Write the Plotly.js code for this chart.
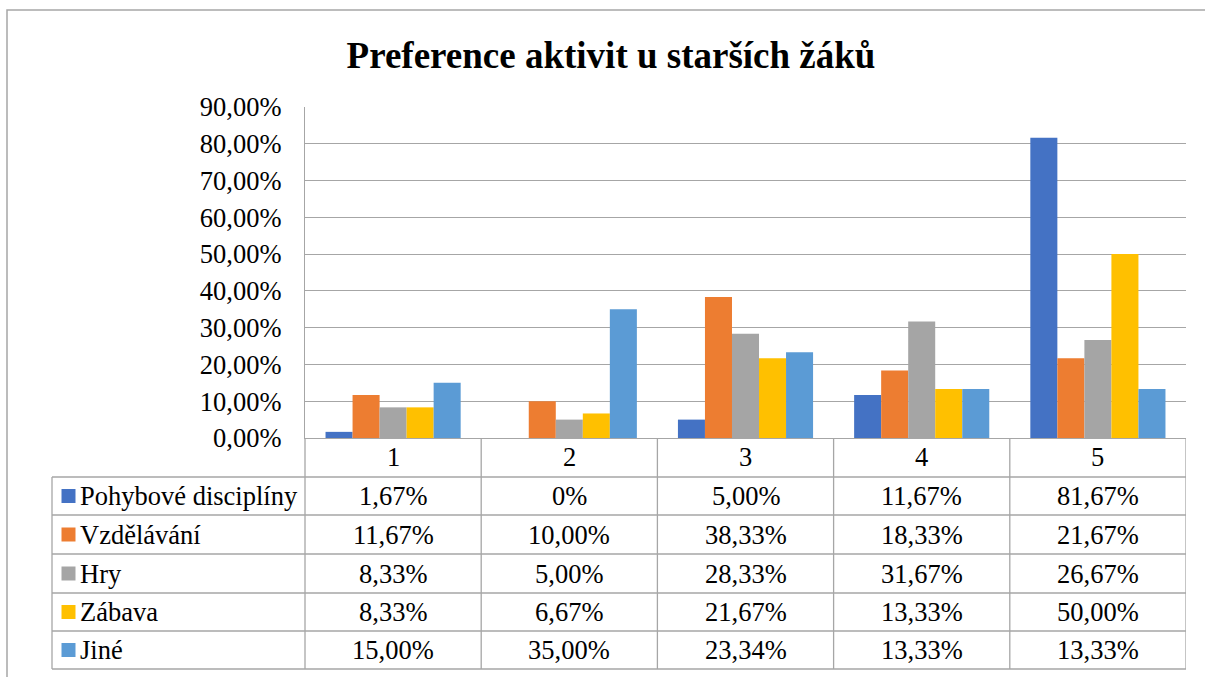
<!DOCTYPE html>
<html>
<head>
<meta charset="utf-8">
<script src="https://cdn.plot.ly/plotly-3.0.1.min.js"></script>
<style>
html,body{margin:0;padding:0;background:#fff;}
#chart{width:1205px;height:677px;}
</style>
</head>
<body>
<div id="chart"></div>
<script>
// ---- data ----
const categories = ['1', '2', '3', '4', '5'];
const seriesNames = ['Pohybové disciplíny', 'Vzdělávání', 'Hry', 'Zábava', 'Jiné'];
const pohybove = [1.67, 0, 5.00, 11.67, 81.67];
const vzdelavani = [11.67, 10.00, 38.33, 18.33, 21.67];
const hry = [8.33, 5.00, 28.33, 31.67, 26.67];
const zabava = [8.33, 6.67, 21.67, 13.33, 50.00];
const jine = [15.00, 35.00, 23.34, 13.33, 13.33];
const yTicks = [0, 10, 20, 30, 40, 50, 60, 70, 80, 90];
const titleText = 'Preference aktivit u starších žáků';

// ---- style ----
const colors = ['#4472C4', '#ED7D31', '#A5A5A5', '#FFC000', '#5B9BD5'];
const allSeries = [pohybove, vzdelavani, hry, zabava, jine];
const FONT = 'Liberation Serif';
const FS = 26.5;
const W = 1205, H = 677;
const L = 305, R = 1186, T = 107, B = 438;
const LINE = '#a6a6a6';
const tableLeft = 52;
const rowEdges = [438, 477, 515, 554, 593, 631, 669];

const px2x = px => (px - L) / (R - L);
const px2y = py => (B - py) / (B - T);

function fmt(v) {
  if (v === 0) return '0%';
  return v.toFixed(2).replace('.', ',') + '%';
}
const fmtTick = v => v.toFixed(2).replace('.', ',') + '%';

const traces = allSeries.map((vals, i) => ({
  type: 'bar',
  name: seriesNames[i],
  x: categories,
  y: vals,
  marker: {color: colors[i], line: {width: 0}},
  hovertemplate: '%{y:.2f}%<extra>' + seriesNames[i] + '</extra>'
}));

const shapes = [];
const annotations = [];

// chart-area border
shapes.push({type: 'rect', xref: 'paper', yref: 'paper',
  x0: px2x(7), x1: px2x(1215), y0: px2y(10), y1: px2y(690),
  line: {color: '#a6a6a6', width: 1.5}, layer: 'below'});

// table left vertical line at plot left (below plot)
shapes.push({type: 'line', xref: 'paper', yref: 'paper',
  x0: 0, x1: 0, y0: px2y(B), y1: px2y(rowEdges[6]), line: {color: LINE, width: 1.3}});
// column dividers + right border
for (let k = 0; k < categories.length; k++) {
  shapes.push({type: 'line', xref: 'x', yref: 'paper',
    x0: k + 0.5, x1: k + 0.5, y0: px2y(B), y1: px2y(rowEdges[6]),
    line: {color: LINE, width: 1.3}});
}
// table outer left border for series rows
shapes.push({type: 'line', xref: 'paper', yref: 'paper',
  x0: px2x(tableLeft), x1: px2x(tableLeft), y0: px2y(rowEdges[1]), y1: px2y(rowEdges[6]),
  line: {color: LINE, width: 1.3}});
// horizontal row lines
for (let r = 1; r < rowEdges.length; r++) {
  shapes.push({type: 'line', xref: 'paper', yref: 'paper',
    x0: px2x(tableLeft), x1: 1, y0: px2y(rowEdges[r]), y1: px2y(rowEdges[r]),
    line: {color: LINE, width: 1.3}});
}

// header row labels
categories.forEach((c, k) => {
  annotations.push({xref: 'x', yref: 'paper', x: k, y: px2y((rowEdges[0] + rowEdges[1]) / 2),
    text: c, showarrow: false, xanchor: 'center', yanchor: 'middle',
    font: {family: FONT, size: FS, color: '#000'}});
});

// series rows
allSeries.forEach((vals, i) => {
  const yc = px2y((rowEdges[i + 1] + rowEdges[i + 2]) / 2);
  // legend key
  shapes.push({type: 'rect', xref: 'paper', yref: 'paper',
    x0: px2x(61.5), x1: px2x(75.5), y0: yc - 7 / (B - T), y1: yc + 7 / (B - T),
    fillcolor: colors[i], line: {width: 0}});
  annotations.push({xref: 'paper', yref: 'paper', x: px2x(78), y: yc,
    text: seriesNames[i], showarrow: false, xanchor: 'left', yanchor: 'middle',
    font: {family: FONT, size: FS, color: '#000'}});
  vals.forEach((v, k) => {
    annotations.push({xref: 'x', yref: 'paper', x: k, y: yc,
      text: fmt(v), showarrow: false, xanchor: 'center', yanchor: 'middle',
      font: {family: FONT, size: FS, color: '#000'}});
  });
});

const layout = {
  width: W, height: H,
  margin: {l: L, r: W - R, t: T, b: H - B, autoexpand: false},
  paper_bgcolor: '#fff', plot_bgcolor: '#fff',
  showlegend: false,
  barmode: 'group',
  bargap: 0.233,
  bargroupgap: 0,
  title: {text: '<b>' + titleText + '</b>', xref: 'container', yref: 'container',
    x: 611 / W, xanchor: 'center', y: 1 - 55 / H, yanchor: 'middle',
    font: {family: FONT, size: 37, color: '#000'}},
  xaxis: {type: 'category', range: [-0.5, categories.length - 0.5],
    showticklabels: false, ticks: '', showgrid: false, zeroline: false,
    showline: true, linecolor: LINE, linewidth: 1.3, fixedrange: true},
  yaxis: {range: [0, 90], tickmode: 'array', tickvals: yTicks, ticktext: yTicks.map(fmtTick),
    showgrid: true, gridcolor: LINE, gridwidth: 1.2, zeroline: false,
    showline: true, linecolor: LINE, linewidth: 1.3, ticks: '',
    ticklabelstandoff: 17,
    tickfont: {family: FONT, size: FS, color: '#000'}, fixedrange: true},
  shapes: shapes,
  annotations: annotations
};

Plotly.newPlot('chart', traces, layout, {displayModeBar: false});
</script>
</body>
</html>
